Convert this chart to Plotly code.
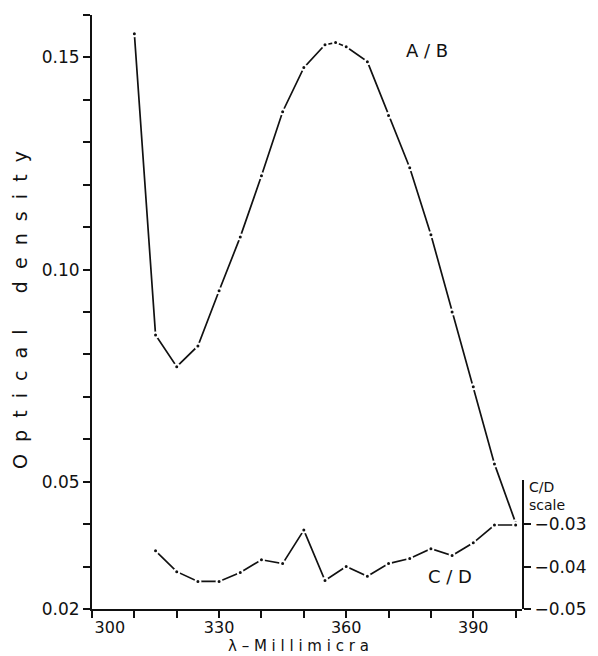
import plotly.graph_objects as go

# A/B curve (left scale, optical density)
ab_wavelength = [310, 315, 320, 325, 330, 335, 340, 345, 350, 355, 357.5, 360,
                 365, 370, 375, 380, 385, 390, 395, 400]
ab_density = [0.1556, 0.0846, 0.0771, 0.0820, 0.0950, 0.1077, 0.1221, 0.1372,
              0.1476, 0.1530, 0.1535, 0.1525, 0.1490, 0.1363, 0.1240, 0.1082,
              0.0900, 0.0724, 0.0542, 0.0403]

# C/D curve (right "C/D scale")
cd_wavelength = [315, 320, 325, 330, 335, 340, 345, 350, 355, 360, 365, 370,
                 375, 380, 385, 390, 395, 400]
cd_density = [-0.0363, -0.0412, -0.0435, -0.0435, -0.0414, -0.0384, -0.0393,
              -0.0314, -0.0433, -0.0400, -0.0423, -0.0393, -0.0381, -0.0358,
              -0.0374, -0.0344, -0.0302, -0.0302]

NB = "\u00a0"
x_ticks = list(range(300, 401, 10))
x_labels = {300: NB * 7 + "300", 330: "330", 360: "360", 390: "390"}
y_ticks = [round(0.02 + 0.01 * i, 2) for i in range(15)]
y_labels = {0.02: "0.02", 0.05: "0.05", 0.10: "0.10", 0.15: "0.15"}
y2_ticks = [-0.05, -0.04, -0.03]
y2_labels = ["\u2212" + "0.05", "\u2212" + "0.04", "\u2212" + "0.03"]

FONT = "DejaVu Sans"
BLACK = "#111111"

# page body adds an 8px offset; figure coordinates are window coordinates - 8
OFF = 8
W, H = 598 - OFF, 656 - OFF
plot_left, plot_right, plot_top, plot_bottom = 92 - OFF, 522 - OFF, 15 - OFF, 609 - OFF
L, R, T, B = plot_left, W - plot_right, plot_top, H - plot_bottom
pw = plot_right - plot_left
ph = plot_bottom - plot_top


def px(xw):
    return (xw - OFF - plot_left) / pw


def py(yw):
    return (plot_bottom - (yw - OFF)) / ph


y2_frac = 129 / ph
y_span = 0.14

fig = go.Figure()

marker_style = dict(size=5, color=BLACK, line=dict(color="white", width=2))

fig.add_trace(go.Scatter(
    x=ab_wavelength, y=ab_density, mode="lines+markers",
    line=dict(color=BLACK, width=1.7), marker=marker_style,
    xaxis="x", yaxis="y", showlegend=False, cliponaxis=False))

fig.add_trace(go.Scatter(
    x=cd_wavelength, y=cd_density, mode="lines+markers",
    line=dict(color=BLACK, width=1.7), marker=marker_style,
    xaxis="x", yaxis="y2", showlegend=False, cliponaxis=False))

axis_common = dict(showline=True, linecolor=BLACK, linewidth=2, ticks="outside",
                   ticklen=7, tickwidth=1.5, tickcolor=BLACK, showgrid=False,
                   zeroline=False, tickfont=dict(size=17, family=FONT, color=BLACK))

fig.update_layout(
    width=W, height=H,
    margin=dict(l=L, r=R, t=T, b=B, autoexpand=False),
    paper_bgcolor="white", plot_bgcolor="rgba(0,0,0,0)",
    font=dict(family=FONT, color=BLACK, size=15),
    xaxis=dict(range=[300, 401.5], anchor="y",
               tickvals=x_ticks, ticktext=[x_labels.get(v, "") for v in x_ticks],
               ticklabelstandoff=-4,
               **{**axis_common, "tickfont": dict(size=16, family=FONT, color=BLACK)}),
    yaxis=dict(range=[0.02, 0.16], anchor="x",
               tickvals=y_ticks + [0.16],
               ticktext=[y_labels.get(v, "") for v in y_ticks] + [""],
               **axis_common),
    yaxis2=dict(domain=[0, y2_frac], range=[-0.05, -0.05 + y2_frac * y_span],
                side="right", anchor="x",
                tickvals=y2_ticks, ticktext=y2_labels, **axis_common),
)

center = dict(xref="paper", yref="paper", xanchor="center", yanchor="middle",
              showarrow=False)
fig.add_annotation(text="A / B", x=px(427), y=py(50),
                   font=dict(size=18, family=FONT), **center)
fig.add_annotation(text="C / D", x=px(450), y=py(576),
                   font=dict(size=18, family=FONT), **center)
fig.add_annotation(text="C/D<br>scale", x=px(527), y=py(496),
                   xref="paper", yref="paper", xanchor="left", yanchor="middle",
                   align="left", showarrow=False, font=dict(size=14, family=FONT))
sp = NB * 2
fig.add_annotation(text=sp.join("Optical") + NB * 6 + sp.join("density"), textangle=-90,
                   x=px(20), y=py(310), font=dict(size=19, family=FONT), **center)
fig.add_annotation(text="λ – " + " ".join("Millimicra"),
                   x=px(298), y=py(646), font=dict(size=15, family=FONT), **center)

fig.write_html("out.html")
